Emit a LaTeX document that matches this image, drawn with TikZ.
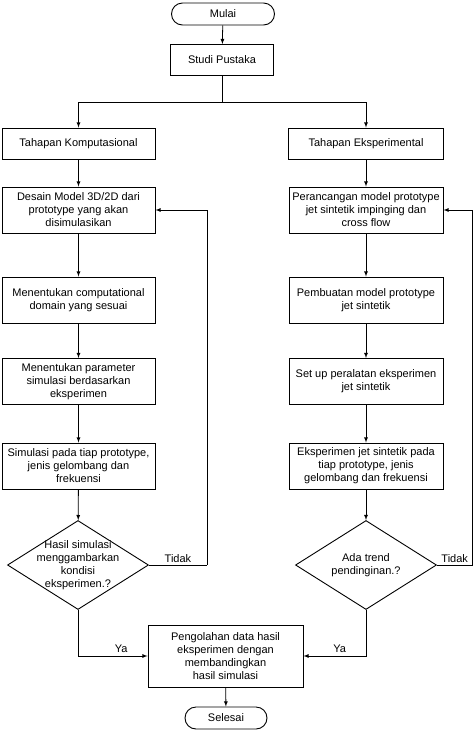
\documentclass[tikz,border=0pt]{standalone}
\usepackage{fontspec}
\setmainfont{Liberation Sans}
\usetikzlibrary{shapes,arrows}

\begin{document}
\begin{tikzpicture}[x=1pt,y=-1pt]
\tikzstyle{every node}=[font=\fontsize{11}{13}\selectfont]
\tikzstyle{box}=[draw, align=center, inner sep=0pt, line width=0.9pt, minimum height=46pt]
\tikzstyle{startstop}=[draw, rounded corners=11pt, line width=0.9pt, minimum height=22pt]
\tikzstyle{decide}=[draw, diamond, inner sep=0pt, line width=0.9pt, minimum width=141pt, minimum height=89pt]
\tikzstyle{flow}=[-latex, line width=0.8pt]
\useasboundingbox (0,0) rectangle (474,732);
% start
\node [startstop, minimum width=103pt] (mulai) at (223,14) {Mulai};
\node [box, minimum width=103pt, minimum height=31pt] (studi) at (222,60) {Studi Pustaka};
\node [box, minimum width=153pt, minimum height=31pt] (tk) at (78.5,143.5) {Tahapan Komputasional};
\node [box, minimum width=155pt, minimum height=31pt] (te) at (366,143.5) {Tahapan Eksperimental};
% left column
\node [box, minimum width=153pt] (k1) at (78.5,210) {Desain Model 3D/2D dari\\prototype yang akan\\disimulasikan};
\node [box, minimum width=153pt] (k2) at (78.5,300) {Menentukan computational\\domain yang sesuai};
\node [box, minimum width=153pt] (k3) at (78.5,381.5) {Menentukan parameter\\simulasi berdasarkan\\eksperimen};
\node [box, minimum width=153pt] (k4) at (78.5,466) {Simulasi pada tiap prototype,\\jenis gelombang dan\\frekuensi};
\node [decide] (kd) at (78,565) {};
\node [align=center] (kdtext) at (kd) {Hasil simulasi\\menggambarkan\\kondisi\\eksperimen.?};
% right column
\node [box, minimum width=154pt] (e1) at (366,210) {Perancangan model prototype\\jet sintetik impinging dan\\cross flow};
\node [box, minimum width=154pt] (e2) at (366,300) {Pembuatan model prototype\\jet sintetik};
\node [box, minimum width=154pt] (e3) at (366,381.5) {Set up peralatan eksperimen\\jet sintetik};
\node [box, minimum width=154pt] (e4) at (366,466) {Eksperimen jet sintetik pada\\tiap prototype, jenis\\gelombang dan frekuensi};
\node [decide] (ed) at (366,565) {};
\node [align=center] (edtext) at (ed) {Ada trend\\pendinginan.?};
% end
\node [box, minimum width=155pt, minimum height=62pt] (olah) at (225.5,656) {Pengolahan data hasil\\eksperimen dengan\\membandingkan\\hasil simulasi};
\node [startstop, minimum width=82pt] (selesai) at (226,718) {Selesai};
\coordinate (split) at (222,102);
\coordinate (kloop) at (207,565);
\coordinate (eloop) at (472.5,565);
% connectors
\draw [flow] (mulai) -- (studi);
\draw [line width=0.8pt] (studi) -- (split);
\draw [flow] (split) -| (tk);
\draw [flow] (split) -| (te);
\draw [flow] (tk) -- (k1);
\draw [flow] (k1) -- (k2);
\draw [flow] (k2) -- (k3);
\draw [flow] (k3) -- (k4);
\draw [flow] (k4) -- (kd);
\draw [flow] (te) -- (e1);
\draw [flow] (e1) -- (e2);
\draw [flow] (e2) -- (e3);
\draw [flow] (e3) -- (e4);
\draw [flow] (e4) -- (ed);
\draw [line width=0.8pt] (kd.east) -- node [above, inner sep=2pt] {Tidak} (kloop);
\draw [flow] (kloop) |- (k1.east);
\draw [line width=0.8pt] (ed.east) -- node [above, inner sep=2pt] {Tidak} (eloop);
\draw [flow] (eloop) |- (e1.east);
\draw [flow] (kd.south) |- node [pos=0.81, above, inner sep=3pt] {Ya} (olah.west);
\draw [flow] (ed.south) |- node [pos=0.71, above, inner sep=3pt] {Ya} (olah.east);
\draw [flow] (olah) -- (selesai);
\end{tikzpicture}
\end{document}
